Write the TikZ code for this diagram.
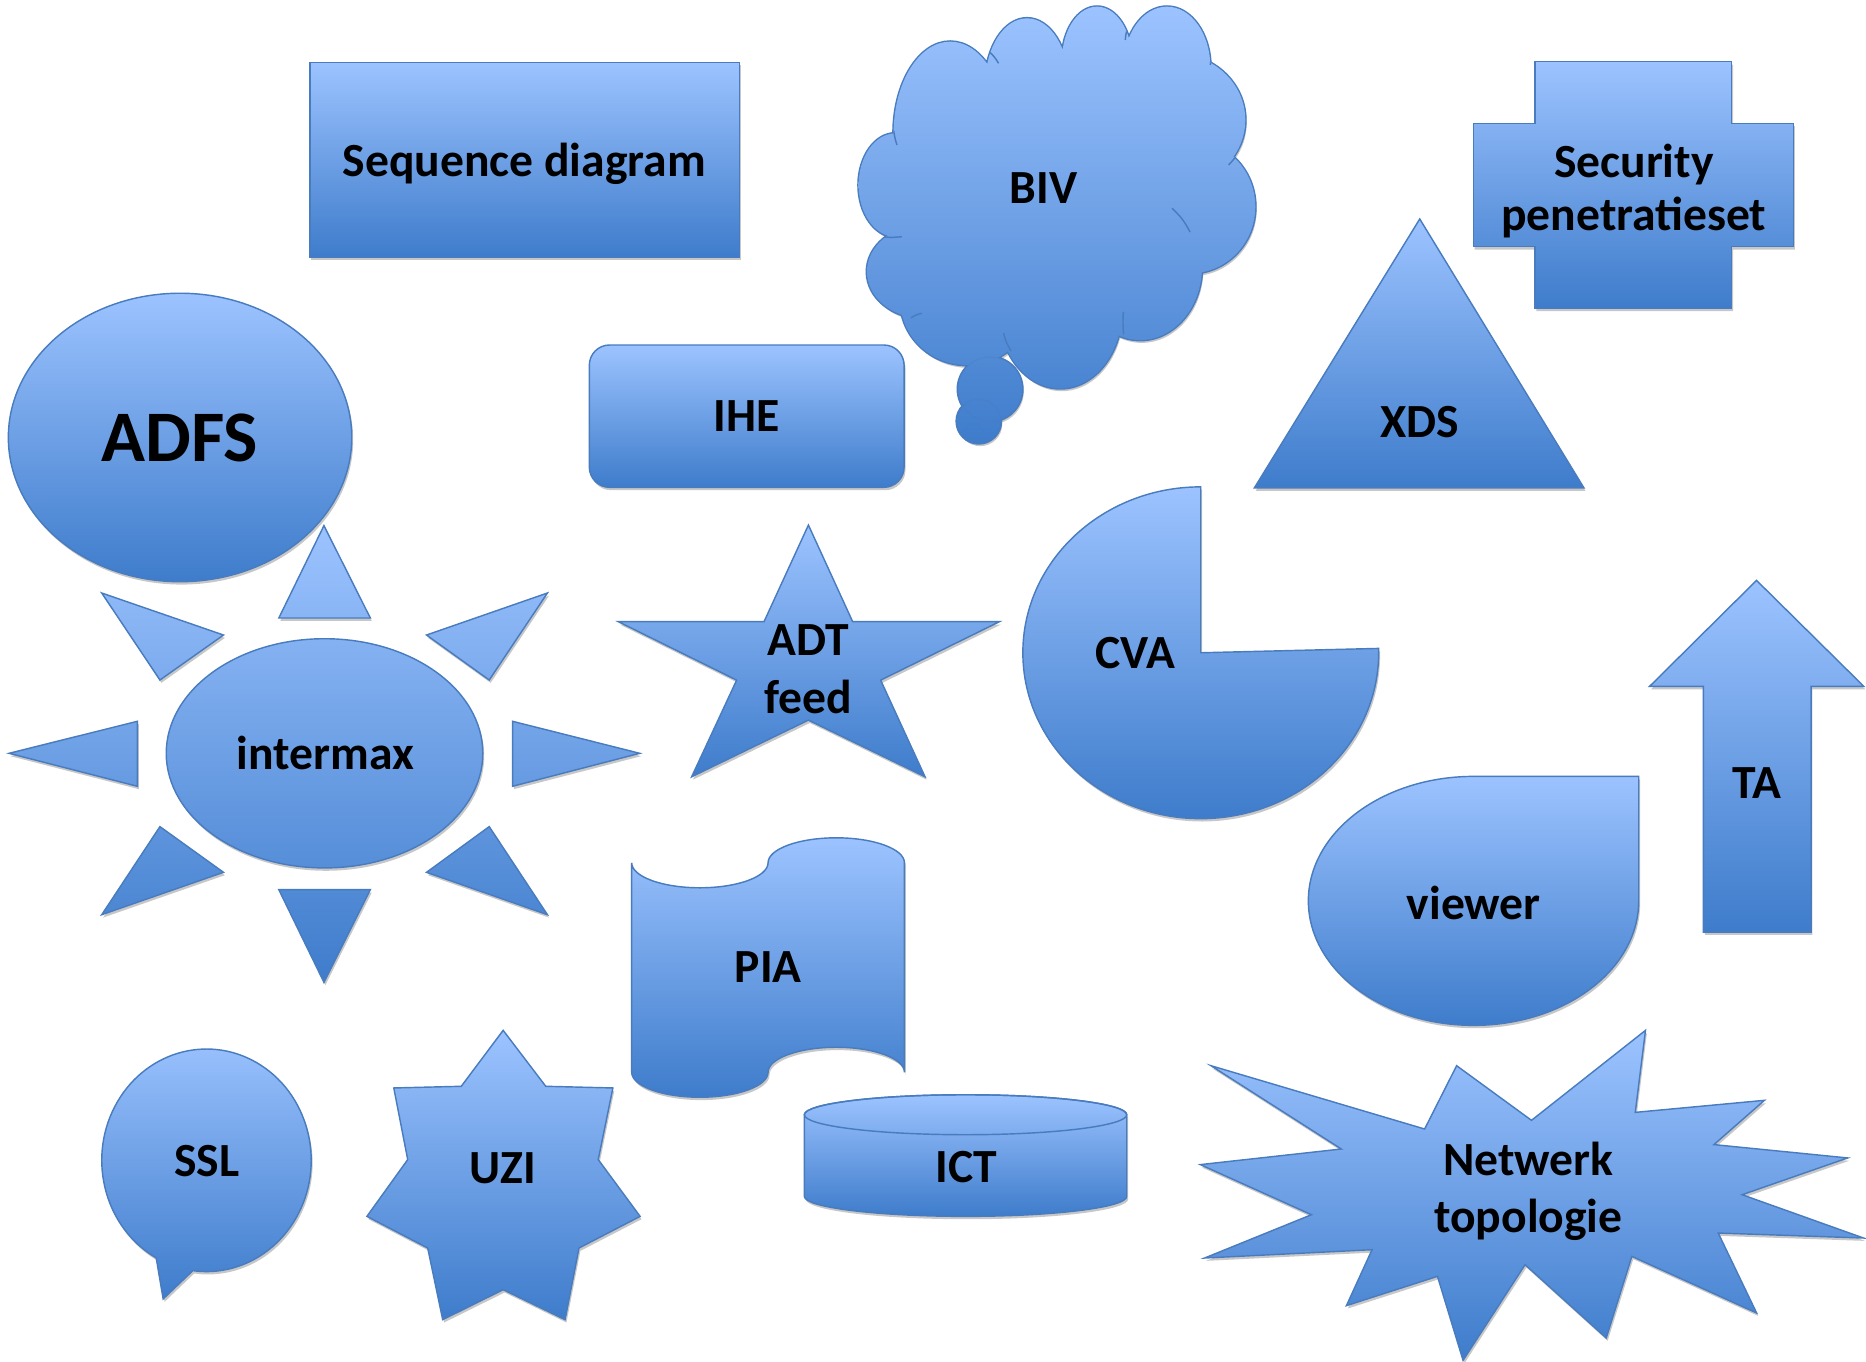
\documentclass[tikz,border=0pt]{standalone}
\usepackage{fontspec}
\setmainfont{Carlito}
\usetikzlibrary{shadows}
\definecolor{topc}{RGB}{156,195,255}
\definecolor{botc}{RGB}{62,124,203}
\definecolor{edgec}{RGB}{72,124,190}
\begin{document}
\begin{tikzpicture}[x=1pt,y=-1pt,
  shp/.style={draw=edgec, line width=1.2pt, top color=topc, bottom color=botc,
    drop shadow={shadow xshift=1.2pt, shadow yshift=-2.4pt, opacity=0.22, fill=black}},
  lbl/.style={font=\fontsize{40}{44}\selectfont\bfseries, text=black, inner sep=0pt, align=center, anchor=base},
  shd/.style={fill=black, opacity=0.22},
  stub/.style={draw=edgec, line width=1.2pt}]
\useasboundingbox (0,0) rectangle (1568,1144);
\fill[white] (0,0) rectangle (1568,1144);

% Sequence diagram
\path[shp] (260.5,52.4) rectangle (621.3,216.2);
\node[lbl] (seq) at (440.5,147.9) {Sequence diagram};

% BIV cloud
\def\cloudP{(752.3,155.5) ellipse[x radius=30.8, y radius=43.4]
 (776.1,228.3) ellipse[x radius=47.6, y radius=39.2]
 (812.5,252.1) ellipse[x radius=56, y radius=54.6]
 (891,260.5) ellipse[x radius=51.8, y radius=65.8]
 (958.2,224.1) ellipse[x radius=51.8, y radius=61.6]
 (1000.2,173.7) ellipse[x radius=54.6, y radius=56]
 (986.2,100.8) ellipse[x radius=60.2, y radius=56]
 (980.6,56) ellipse[x radius=36.4, y radius=50.4]
 (921.8,50.4) ellipse[x radius=29.4, y radius=44.8]
 (863,70) ellipse[x radius=35, y radius=54.6]
 (798.5,112) ellipse[x radius=47.6, y radius=77]
 (885,165) ellipse[x radius=120, y radius=105]
 (832,327) circle[radius=27]
 (822.5,354) circle[radius=18.5]}
\fill[shd, shift={(1.2,2.4)}] \cloudP;
\draw[edgec, line width=2.4pt] \cloudP;
\shade[top color=topc, bottom color=botc] \cloudP;
\begin{scope}
\clip \cloudP;
\draw[edgec, line width=0.8pt, opacity=0.35] (832,327) circle[radius=27] (822.5,354) circle[radius=18.5] (818,364) circle[radius=8];
\draw[stub] (829.5,42) to[bend left=10] (839.1,53.2);
\draw[stub] (895.4,27) to[bend right=10] (892.4,39.2);
\draw[stub] (948.6,21) to[bend right=10] (945.6,33.6);
\draw[stub] (1017.5,45) to[bend left=5] (1017,54.6);
\draw[stub] (1045.5,119) to[bend left=10] (1032.4,138.6);
\draw[stub] (984.8,175) to[bend left=10] (1000,195);
\draw[stub] (944.2,281) to[bend left=5] (944,262);
\draw[stub] (849.5,295) to[bend left=8] (843.3,280);
\draw[stub] (765.5,267) to[bend left=10] (774.7,263.3);
\draw[stub] (732,197) to[bend right=10] (757.9,198.9);
\draw[stub] (751,110) to[bend right=5] (753.7,121.8);
\end{scope}
\node[lbl] (biv) at (876.8,170.9) {BIV};

% Security cross
\path[shp] (1289.8,51.8) -- (1455.1,51.8) -- (1455.1,103.6) -- (1507,103.6) -- (1507,207.3) -- (1455.1,207.3) -- (1455.1,259.1) -- (1289.8,259.1) -- (1289.8,207.3) -- (1238,207.3) -- (1238,103.6) -- (1289.8,103.6) -- cycle;
\node[lbl] (sec) at (1373,193.3) {Security\\penetratieset};

% XDS
\path[shp] (1193,184) -- (1331,410) -- (1054,410) -- cycle;
\node[lbl] (xds) at (1193,368) {XDS};

% ADFS
\path[shp] (151.3,367.6) ellipse[x radius=144.3, y radius=121.2];
\node[lbl, font=\fontsize{61}{70}\selectfont\bfseries] (adfs) at (151.3,387.4) {ADFS};

% IHE
\path[shp, rounded corners=17pt] (495.2,289.9) rectangle (759.7,409.5);
\node[lbl] (ihe) at (627.5,362.7) {IHE};

% Sun
\path[shp] (272.7,633) ellipse[x radius=133, y radius=96.3]
 (272.2,441.7) -- (311.2,519.3) -- (234.3,519.3) -- cycle
 (272.2,825.4) -- (234.3,747.6) -- (311.2,747.6) -- cycle
 (7.6,633) -- (115.4,606.1) -- (115.4,660.7) -- cycle
 (537.6,633) -- (430.7,660.7) -- (430.7,606.1) -- cycle
 (85.5,498.3) -- (187.8,533.6) -- (134.4,571.4) -- cycle
 (460,498.3) -- (411.1,571.4) -- (358.4,533.6) -- cycle
 (134.4,694.6) -- (187.8,733) -- (85.5,768.6) -- cycle
 (411.1,694.6) -- (460,768.6) -- (358.4,733) -- cycle;
\node[lbl] (intermax) at (273.6,646.7) {intermax};

% ADT feed star
\path[shp] (679.3,441.2) -- (716.5,522.4) -- (839.8,522.4) -- (740,571.5) -- (777.3,652.7) -- (679.3,605.1) -- (581.2,652.7) -- (619,571.5) -- (519.6,522.4) -- (642,522.4) -- cycle;
\node[lbl, font=\fontsize{40}{49}\selectfont\bfseries] (adt) at (679.3,599.5) {ADT\\feed};

% CVA pie
\path[shp] (1009,548.5) -- (1009,409.1) arc[start angle=270, end angle=-1.5, x radius=149.5, y radius=139.4] -- cycle;
\node[lbl] (cva) at (954,561.9) {CVA};

% TA arrow
\path[shp] (1476,487.7) -- (1566.2,576.8) -- (1521.8,576.8) -- (1521.8,783.2) -- (1431.3,783.2) -- (1431.3,576.8) -- (1386.1,576.8) -- cycle;
\node[lbl] (ta) at (1476.3,671.2) {TA};

% viewer teardrop
\path[shp] (1238.2,652.4) -- (1377,652.4) -- (1377,757) arc[start angle=0, end angle=270, x radius=138.8, y radius=104.6] -- cycle;
\node[lbl] (viewer) at (1238.5,772.6) {viewer};

% PIA punched tape
\path[shp] (530.8,725) arc[start angle=180, end angle=0, x radius=57.3, y radius=21]
 arc[start angle=180, end angle=360, x radius=57.3, y radius=21] -- (760,901)
 arc[start angle=360, end angle=180, x radius=57.3, y radius=21]
 arc[start angle=0, end angle=180, x radius=57.3, y radius=21] -- cycle;
\node[lbl] (pia) at (645.6,825.5) {PIA};

% ICT cylinder
\path[shp] (675.9,936.7) -- (675.9,1005.3) arc[start angle=180, end angle=0, x radius=135.45, y radius=16.8] -- (946.8,936.7) arc[start angle=0, end angle=-180, x radius=135.45, y radius=16.8] -- cycle;
\draw[edgec, line width=1.2pt] (811.35,936.7) ellipse[x radius=135.45, y radius=16.8];
\node[lbl] (ict) at (811.9,993.5) {ICT};

% SSL speech bubble
\path[shp] (131.25,1057) arc[start angle=118.7, end angle=457.5, x radius=88, y radius=93.5] -- (137.1,1091.5) -- cycle;
\node[lbl] (ssl) at (173.8,989) {SSL};

% UZI 7-point star
\path[shp] (422.8,865.8) -- (458.6,912.8) -- (515,914.2) -- (502.7,974.4) -- (537.9,1022.1) -- (486.5,1048.7) -- (474.8,1108.9) -- (422.8,1083.7) -- (372,1108.9) -- (359.4,1048.7) -- (308.3,1022.1) -- (342.6,974.4) -- (330.9,914.2) -- (387.6,912.8) -- cycle;
\node[lbl] (uzi) at (422.5,994.6) {UZI};

% Netwerk topologie explosion
\path[shp] (1017.6,895.5) -- (1197.1,948.7) -- (1224,895.5) -- (1286.9,941.4) -- (1382.7,865.8) -- (1374.1,934.7) -- (1482.6,924.6) -- (1440.2,961.8) -- (1552.6,973) -- (1463.9,1003.9) -- (1565.9,1040.3) -- (1443.8,1036.1) -- (1476.1,1103.3) -- (1371.2,1055.7) -- (1349.7,1124.3) -- (1281.5,1062.7) -- (1229.4,1143.1) -- (1207.9,1072.5) -- (1131.4,1097.1) -- (1152.9,1050.1) -- (1012.2,1057.1) -- (1102,1020.7) -- (1008.6,978.6) -- (1127.1,965.5) -- cycle;
\node[lbl, font=\fontsize{40}{47.5}\selectfont\bfseries] (net) at (1284.2,1035.5) {Netwerk\\topologie};
\end{tikzpicture}
\end{document}
